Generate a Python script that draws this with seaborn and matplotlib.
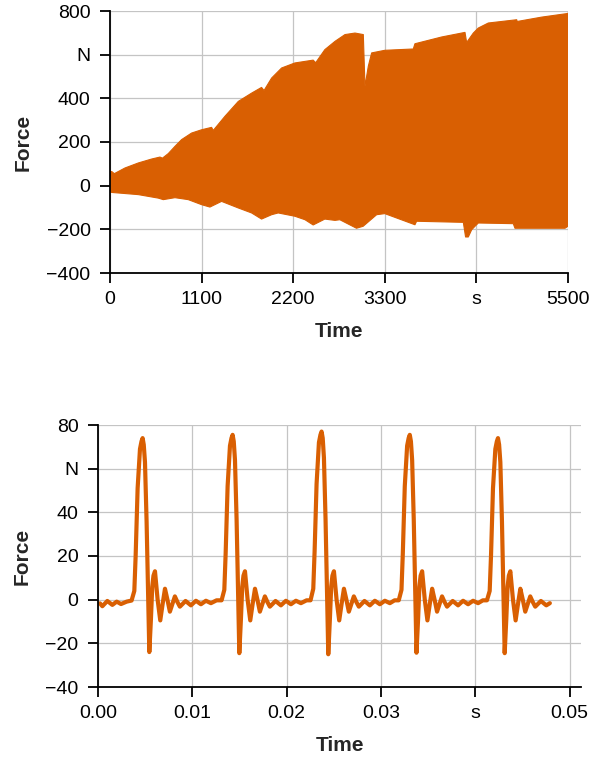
import numpy as np
import pandas as pd
import matplotlib
matplotlib.use("Agg")
import matplotlib.pyplot as plt
import seaborn as sns

# ---------------- top chart: envelope of the long record (time in s, force in N)
upper_time = [0, 20, 52, 180, 340, 500, 600, 630, 700, 780, 860, 980, 1100, 1220, 1240,
              1381, 1541, 1701, 1820, 1850, 1941, 2061, 2220, 2440, 2470, 2580, 2702, 2760,
              2822, 2942, 3042, 3062, 3102, 3142, 3300, 3642, 3662, 3983, 4263, 4283, 4363,
              4423, 4543, 4884, 4890, 5184, 5484, 5500]
upper_force = [62, 65, 55, 81, 104, 122, 131, 126, 147, 180, 211, 241, 256, 267, 253,
               318, 386, 424, 450, 436, 493, 539, 562, 575, 563, 623, 661, 676,
               692, 699, 692, 455, 547, 608, 620, 626, 650, 681, 702, 656, 699,
               722, 745, 760, 752, 772, 788, 790]
lower_time = [0, 20, 340, 580, 640, 780, 940, 1100, 1200, 1340, 1540, 1701, 1820, 1941,
              2020, 2220, 2342, 2440, 2580, 2702, 2760, 2960, 3040, 3202, 3300, 3662, 3682,
              4243, 4270, 4303, 4343, 4383, 4423, 4843, 4863, 5464, 5500]
lower_force = [-28, -31, -41, -57, -64, -55, -64, -87, -98, -72, -102, -125, -153, -133,
               -125, -140, -156, -180, -153, -159, -156, -195, -186, -133, -128, -179, -163,
               -168, -235, -235, -202, -186, -171, -174, -195, -195, -186]

top_xticks = [0, 1100, 2200, 3300, 4400, 5500]
top_xticklabels = ["0", "1100", "2200", "3300", "s", "5500"]
top_yticks = [-400, -200, 0, 200, 400, 600, 800]
top_yticklabels = ["\u2212400", "\u2212200", "0", "200", "400", "N", "800"]

# ---------------- bottom chart: zoom on five pulses (time in ms, force in N)
lead_time = [0.21, 0.46, 0.99, 1.52, 1.98, 2.44, 3.04]
lead_force = [-1.7, -3.0, -0.6, -2.4, -0.9, -2.0, -0.9]

p1_time = [3.56, 3.85, 3.99, 4.20, 4.45, 4.61, 4.73, 4.85, 4.98, 5.15, 5.26, 5.33, 5.44, 5.61,
           5.75, 5.88, 6.04, 6.32, 6.60, 6.85, 7.10, 7.36, 7.62, 7.88, 8.15, 8.41, 8.68, 9.28,
           9.85, 10.38, 10.91, 11.44, 11.97, 12.57]
p1_force = [-0.4, 4, 20, 51, 69, 72.5, 74, 71, 63, 36, 13, -3, -24, -9, 6, 11, 13, 0, -9.5,
            -2, 5, 0, -5.5, -2, 1.5, -1, -3.2, -0.6, -2.6, -0.5, -2.1, -0.5, -1.6, -0.3]

p2_time = [13.10, 13.39, 13.53, 13.74, 13.99, 14.15, 14.27, 14.39, 14.52, 14.69, 14.80, 14.87,
           14.98, 15.15, 15.29, 15.42, 15.58, 15.86, 16.14, 16.39, 16.64, 16.90, 17.16, 17.42,
           17.69, 17.95, 18.22, 18.82, 19.39, 19.92, 20.45, 20.98, 21.51, 22.11]
p2_force = [-0.3, 4.5, 21, 52, 70.5, 74, 75.5, 72.5, 64, 37, 13, -3, -24.5, -9, 6, 11, 13, 0,
            -9.5, -2, 5, 0, -5.5, -2, 1.5, -1, -3.2, -0.6, -2.6, -0.5, -2.1, -0.5, -1.6, -0.3]

p3_time = [22.53, 22.82, 22.96, 23.17, 23.42, 23.58, 23.70, 23.82, 23.95, 24.12, 24.23, 24.30,
           24.41, 24.58, 24.72, 24.85, 25.01, 25.29, 25.57, 25.82, 26.07, 26.33, 26.59, 26.85,
           27.12, 27.38, 27.65, 28.25, 28.82, 29.35, 29.88, 30.41, 30.94, 31.44]
p3_force = [-0.3, 5, 22, 53, 72, 75.5, 77, 74, 65, 37, 13, -3, -25, -9, 6, 11, 13, 0, -9.5,
            -2, 5, 0, -5.5, -2, 1.5, -1, -3.2, -0.6, -2.6, -0.5, -2.1, -0.5, -1.6, -0.3]

p4_time = [31.88, 32.17, 32.31, 32.52, 32.77, 32.93, 33.05, 33.17, 33.30, 33.47, 33.58, 33.65,
           33.76, 33.93, 34.07, 34.20, 34.36, 34.64, 34.92, 35.17, 35.42, 35.68, 35.94, 36.20,
           36.47, 36.73, 37.00, 37.60, 38.17, 38.70, 39.23, 39.76, 40.29, 40.80]
p4_force = [-0.3, 4.5, 21, 52, 70.5, 74, 75.5, 72.5, 64, 37, 13, -3, -24.3, -9, 6, 11, 13, 0,
            -9.5, -2, 5, 0, -5.5, -2, 1.5, -1, -3.2, -0.6, -2.6, -0.5, -2.1, -0.5, -1.6, -0.3]

p5_time = [41.23, 41.52, 41.66, 41.87, 42.12, 42.28, 42.40, 42.52, 42.65, 42.82, 42.93, 43.00,
           43.11, 43.28, 43.42, 43.55, 43.71, 43.99, 44.27, 44.52, 44.77, 45.03, 45.29, 45.55,
           45.82, 46.08, 46.35, 46.95, 47.52, 47.90]
p5_force = [-0.3, 4, 20, 51, 69, 72.5, 74, 71, 63, 36, 13, -3, -24.5, -9, 6, 11, 13, 0, -9.5,
            -2, 5, 0, -5.5, -2, 1.5, -1, -3.2, -0.6, -2.6, -1.6]

bot_xticks = [0.00, 0.01, 0.02, 0.03, 0.04, 0.05]
bot_xticklabels = ["0.00", "0.01", "0.02", "0.03", "s", "0.05"]
bot_yticks = [-40, -20, 0, 20, 40, 60, 80]
bot_yticklabels = ["\u221240", "\u221220", "0", "20", "40", "N", "80"]

COLOR = "#d95f02"
GRID = "#c4c4c4"

sns.set_style("ticks")
plt.rcParams["font.family"] = ["Liberation Sans", "DejaVu Sans"]
plt.rcParams["font.size"] = 14

fig = plt.figure(figsize=(5.92, 7.58), dpi=100)
ax1 = fig.add_axes([110 / 592, 1 - 273 / 758, 458 / 592, 262 / 758])
ax2 = fig.add_axes([98 / 592, 1 - 687 / 758, 483 / 592, 262 / 758])

# ---- top
up = pd.DataFrame({"Time": upper_time, "Force": upper_force})
lo = pd.DataFrame({"Time": lower_time, "Force": lower_force})
poly_x = np.concatenate([up["Time"].to_numpy(), lo["Time"].to_numpy()[::-1]])
poly_y = np.concatenate([up["Force"].to_numpy(), lo["Force"].to_numpy()[::-1]])
ax1.fill(poly_x, poly_y, color=COLOR, lw=0, zorder=3)
sns.lineplot(data=up, x="Time", y="Force", ax=ax1, color=COLOR, lw=0.8, sort=False,
             estimator=None, zorder=3)
sns.lineplot(data=lo, x="Time", y="Force", ax=ax1, color=COLOR, lw=0.8, sort=False,
             estimator=None, zorder=3)
ax1.set_xlim(0, 5500)
ax1.set_ylim(-400, 800)
ax1.set_xticks(top_xticks)
ax1.set_xticklabels(top_xticklabels)
ax1.set_yticks(top_yticks)
ax1.set_yticklabels(top_yticklabels)

# ---- bottom
t_ms = lead_time + p1_time + p2_time + p3_time + p4_time + p5_time
f_n = lead_force + p1_force + p2_force + p3_force + p4_force + p5_force
bot = pd.DataFrame({"Time": np.array(t_ms) / 1000.0, "Force": f_n})
sns.lineplot(data=bot, x="Time", y="Force", ax=ax2, color=COLOR, lw=3.0, sort=False,
             estimator=None, zorder=3, solid_joinstyle="round", solid_capstyle="round")
ax2.set_xlim(0, 0.0512)
ax2.set_ylim(-40, 80)
ax2.set_xticks(bot_xticks)
ax2.set_xticklabels(bot_xticklabels)
ax2.set_yticks(bot_yticks)
ax2.set_yticklabels(bot_yticklabels)

for ax in (ax1, ax2):
    ax.grid(True, color=GRID, lw=0.9, zorder=0)
    ax.set_axisbelow(True)
    for s in ("top", "right"):
        ax.spines[s].set_visible(False)
    for s in ("left", "bottom"):
        ax.spines[s].set_color("black")
        ax.spines[s].set_linewidth(1.3)
        ax.spines[s].set_zorder(4)
    ax.tick_params(axis="both", direction="out", length=7, width=1.3, color="black",
                   labelsize=14, labelcolor="black")
    ax.tick_params(axis="x", pad=6)
    ax.tick_params(axis="y", pad=7)
    ax.set_xlabel("Time", fontsize=15, fontweight="bold", labelpad=10)
    ax.set_ylabel("Force", fontsize=15, fontweight="bold", labelpad=10)
    for sp in ax.spines.values():
        sp.set_clip_on(False)

fig.savefig("out.png", dpi=100)
